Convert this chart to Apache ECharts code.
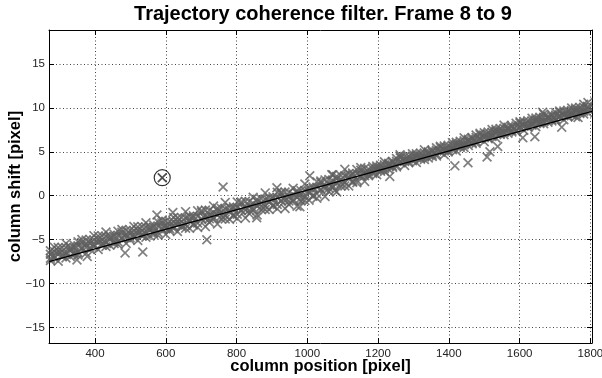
<!DOCTYPE html>
<html>
<head>
<meta charset="utf-8">
<script src="https://cdn.jsdelivr.net/npm/echarts@6/dist/echarts.min.js"></script>
<style>
  html, body { margin: 0; padding: 0; background: #fff; }
  #chart { width: 602px; height: 378px; }
</style>
</head>
<body>
<div id="chart"></div>
<script>
// Tracked features: column position (x) and its shift between the two frames (y).
// Four samples per position bin.
const colPos = [274,285,296,307,318,330,341,352,363,375,386,397,409,420,431,442,454,465,476,488,499,510,521,533,544,555,566,578,589,600,611,622,633,645,656,667,678,690,701,712,723,735,746,757,768,780,791,802,813,825,836,847,858,870,881,892,903,915,926,937,948,960,971,982,993,1005,1016,1027,1038,1050,1061,1072,1083,1095,1106,1117,1128,1140,1151,1162,1173,1185,1196,1207,1218,1230,1241,1252,1263,1275,1286,1297,1308,1320,1331,1342,1353,1365,1376,1387,1398,1410,1421,1432,1443,1455,1466,1477,1488,1500,1511,1522,1533,1545,1556,1567,1578,1590,1601,1612,1623,1635,1646,1657,1668,1680,1691,1702,1713,1725,1736,1747,1758,1770,1781,1792];
const shiftA = [-6.26,-6.85,-6.24,-6.93,-5.42,-6.9,-5.89,-5.24,-5.89,-6.53,-4.99,-5.54,-4.92,-5.63,-4.13,-5.64,-4.64,-4.04,-4.74,-5.42,-3.91,-4.5,-3.89,-4.57,-3.08,-4.59,-3.59,-2.99,-3.69,-4.4,-2.89,-3.48,-2.87,-3.55,
  -1.81,-3.71,-2.47,-1.72,-2.62,-3.51,-1.65,-2.43,-1.7,-2.62,-0.77,-2.68,-1.45,-0.72,-1.63,-2.52,-0.66,-1.42,-0.68,-1.56,0.32,-1.57,-0.33,0.39,-0.54,-1.45,0.39,-0.4,0.31,-0.6,1.33,-0.5,0.79,1.59,0.74,-0.08,1.85,1.13,1.93,1.1,3.0,1.12,2.38,
  2.97,2.3,1.63,3.03,2.68,3.18,2.78,3.87,3.0,3.77,4.23,3.88,3.45,4.51,4.12,4.58,4.15,5.22,4.3,5.02,5.46,5.08,4.65,5.73,5.39,5.89,5.49,6.59,5.71,6.46,6.91,6.55,6.15,7.24,6.88,7.36,6.96,8.03,7.1,7.81,8.24,7.86,7.44,8.52,8.16,8.64,8.22,9.28,8.35,9.06,9.47,9.08,8.65,9.71,9.32,9.78,9.35,10.41,9.47];
const shiftB = [-7.36,-5.85,-7.44,-6.33,-6.62,-5.8,-6.49,-6.74,-5.29,-5.03,-6.09,-4.54,-6.12,-5.03,-5.33,-4.54,-5.24,-5.54,-4.14,-3.92,-5.01,-3.5,-5.09,-3.97,-4.28,-3.49,-4.19,-4.49,-3.09,-2.9,-3.99,-2.48,-4.07,-2.95,
  -3.32,-2.33,-3.22,-3.6,-1.86,-1.63,-3.03,-1.18,-3.21,-1.86,-2.28,-1.3,-2.2,-2.6,-0.87,-0.64,-2.04,-0.17,-2.19,-0.8,-1.19,-0.19,-1.08,-1.49,0.22,0.43,-0.99,0.85,-1.2,0.16,-0.18,0.88,0.04,-0.29,1.5,1.8,0.47,2.38,0.42,1.86,1.49,2.5,1.63,
  1.47,2.9,3.13,2.28,3.33,2.38,3.18,3.07,3.7,3.37,3.28,4.28,4.45,3.76,4.77,3.78,4.55,4.42,5.0,4.62,4.51,5.48,5.65,4.98,6.04,5.09,5.89,5.79,6.41,6.06,5.96,6.95,7.15,6.49,7.53,6.56,7.36,7.23,7.8,7.41,7.29,8.26,8.44,7.77,8.81,7.84,8.62,8.48,9.05,8.66,8.52,9.48,9.65,8.96,9.97,8.98,9.75,9.61,10.17];
const shiftC = [-6.66,-7.1,-5.89,-6.73,-5.92,-6.25,-6.69,-5.69,-4.99,-5.88,-5.39,-5.79,-4.57,-5.43,-4.63,-4.99,-5.44,-4.49,-3.84,-4.77,-4.31,-4.75,-3.54,-4.37,-3.58,-3.94,-4.39,-3.44,-2.79,-3.75,-3.29,-3.73,-2.52,-3.35,-2.54,-2.88,-3.32,-2.35,-1.69,-2.63,-2.18,-2.63,-1.43,-2.29,-1.5,-1.85,-2.3,-1.35,-0.7,-1.64,-1.19,-1.62,-0.41,-1.23,-0.41,-0.74,-1.18,-0.24,0.39,-0.57,-0.14,-0.6,0.58,-0.27,0.6,0.33,-0.06,0.96,1.67,0.8,1.32,0.93,2.2,1.43,2.27,1.95,1.53,2.52,3.2,2.28,2.73,2.53,3.38,2.93,3.52,3.4,3.22,3.93,4.43,3.9,4.21,3.97,4.78,4.3,4.87,4.7,4.47,5.16,5.63,5.1,5.43,5.24,6.09,5.64,6.24,6.11,5.91,6.61,7.1,6.6,6.94,6.73,7.56,7.11,7.68,7.5,7.26,7.94,8.41,7.89,8.22,8.01,8.84,8.37,8.93,8.75,8.51,9.17,9.63,9.1,9.41,9.17,9.98,9.5,10.06,9.87];
const shiftD = [-7.11,-6.35,-6.64,-5.88,-7.07,-6.05,-5.64,-6.44,-5.99,-5.58,-5.84,-5.04,-5.32,-4.58,-5.78,-4.79,-4.39,-5.24,-4.84,-4.47,-4.76,-4.0,-4.29,-3.52,-4.73,-3.74,-3.34,-4.19,-3.79,-3.45,-3.74,-2.98,-3.27,-2.5,-3.69,-2.68,-2.27,-3.1,-2.69,-2.33,-2.63,-1.88,-2.18,-1.44,-2.65,-1.65,-1.25,-2.1,-1.7,-1.34,-1.64,-0.87,-1.16,-0.38,-1.56,-0.54,-0.13,-0.99,-0.61,-0.27,-0.59,0.15,-0.17,0.58,-0.55,0.53,0.99,0.21,0.67,1.1,0.87,1.68,1.45,2.28,1.12,2.15,2.58,1.77,2.2,2.58,2.43,3.03,2.93,3.48,2.77,3.55,3.92,3.48,3.78,4.1,3.91,4.47,4.33,4.85,4.12,4.85,5.17,4.71,4.98,5.3,5.13,5.74,5.64,6.19,5.49,6.26,6.61,6.16,6.45,6.8,6.64,7.23,7.11,7.66,6.93,7.65,7.96,7.49,7.76,8.09,7.92,8.51,8.39,8.92,8.18,8.9,9.21,8.72,8.98,9.3,9.11,9.67,9.53,10.05,9.31,10.02];

// Scattered features away from the main band
const outlierPos   = [349,378,485,535,575,620,716,762,857,914,979,1007,1069,1078,1233,1262,1417,1454,1508,1516,1538,1609,1643,1665,1719,1765,1793];
const outlierShift = [-7.3,-6.9,-6.5,-6.4,-2.2,-1.9,-5.0,1.0,-2.5,0.9,-1.25,2.27,2.4,0.6,2.2,4.66,3.4,3.75,4.4,5.0,5.6,6.6,6.7,9.5,7.8,8.9,10.6];

// Fitted coherent trajectory (end points)
const fitPos   = [270, 1804.5];
const fitShift = [-7.5, 9.6];

// Feature rejected by the filter
const flaggedPos   = [590];
const flaggedShift = [2.05];

const xTicks = [400, 600, 800, 1000, 1200, 1400, 1600, 1800];
const yTicks = [-15, -10, -5, 0, 5, 10, 15];

const FONT = 'Liberation Sans, Arial, Helvetica, sans-serif';
const CROSS = 'path://M0,1.2 L1.2,0 L5,3.8 L8.8,0 L10,1.2 L6.2,5 L10,8.8 L8.8,10 L5,6.2 L1.2,10 L0,8.8 L3.8,5 Z';

const cloud = [];
colPos.forEach((x, i) => {
  cloud.push([x, shiftA[i]], [x, shiftB[i]], [x, shiftC[i]], [x, shiftD[i]]);
});
outlierPos.forEach((x, i) => cloud.push([x, outlierShift[i]]));
const fit = fitPos.map((x, i) => [x, fitShift[i]]);
const flagged = flaggedPos.map((x, i) => [x, flaggedShift[i]]);

const plainFmt = v => String(v).replace('-', '\u2212');
const X_MIN = 270, X_MAX = 1804.5, Y_MIN = -16.75, Y_MAX = 18.85;

const frameLine = { show: true, onZero: false, lineStyle: { color: '#000', width: 1 } };
const gridDots = { show: true, lineStyle: { color: '#444', width: 1, type: [1, 2.5] } };

const chart = echarts.init(document.getElementById('chart'), null, { renderer: 'canvas' });
chart.setOption({
  animation: false,
  backgroundColor: '#fff',
  title: {
    text: 'Trajectory coherence filter. Frame 8 to 9',
    left: 323, top: 4, padding: 0, textAlign: 'center',
    textStyle: { fontFamily: FONT, fontSize: 20, fontWeight: 'bold', color: '#000' }
  },
  grid: { left: 49, right: 10, top: 30, bottom: 35, containLabel: false, outerBoundsMode: 'none' },
  xAxis: [
    {
      type: 'value', min: X_MIN, max: X_MAX, position: 'bottom',
      axisLine: frameLine,
      axisTick: { show: true, inside: true, length: 5, customValues: xTicks, lineStyle: { color: '#000' } },
      axisLabel: { customValues: xTicks, color: '#222', fontSize: 11.5, margin: 5, fontFamily: FONT, formatter: plainFmt },
      splitLine: gridDots,
      name: 'column position [pixel]', nameLocation: 'middle', nameGap: 15, nameMoveOverlap: false,
      nameTextStyle: { fontFamily: FONT, fontSize: 16.5, fontWeight: 'bold', color: '#000' }
    },
    {
      type: 'value', min: X_MIN, max: X_MAX, position: 'top',
      axisLine: frameLine,
      axisTick: { show: true, inside: true, length: 5, customValues: xTicks, lineStyle: { color: '#000' } },
      axisLabel: { show: false }, splitLine: { show: false }
    }
  ],
  yAxis: [
    {
      type: 'value', min: Y_MIN, max: Y_MAX, position: 'left',
      axisLine: frameLine,
      axisTick: { show: true, inside: true, length: 5, customValues: yTicks, lineStyle: { color: '#000' } },
      axisLabel: { customValues: yTicks, color: '#222', fontSize: 11.5, margin: 4, fontFamily: FONT, formatter: plainFmt },
      splitLine: gridDots,
      name: 'column shift [pixel]', nameLocation: 'middle', nameGap: 25, nameMoveOverlap: false,
      nameTextStyle: { fontFamily: FONT, fontSize: 16.5, fontWeight: 'bold', color: '#000' }
    },
    {
      type: 'value', min: Y_MIN, max: Y_MAX, position: 'right',
      axisLine: frameLine,
      axisTick: { show: true, inside: true, length: 5, customValues: yTicks, lineStyle: { color: '#000' } },
      axisLabel: { show: false }, splitLine: { show: false }
    }
  ],
  series: [
    {
      name: 'features', type: 'scatter', data: cloud,
      symbol: CROSS, symbolSize: 10, large: false,
      itemStyle: { color: '#5f5f5f' }, silent: true, z: 2
    },
    {
      name: 'fit', type: 'line', data: fit, showSymbol: false, symbol: 'none',
      lineStyle: { color: '#000', width: 1.3 }, silent: true, z: 3
    },
    {
      name: 'rejected ring', type: 'scatter', data: flagged,
      symbol: 'circle', symbolSize: 16,
      itemStyle: { color: 'rgba(0,0,0,0)', borderColor: '#000', borderWidth: 1.2 }, silent: true, z: 4
    },
    {
      name: 'rejected', type: 'scatter', data: flagged,
      symbol: CROSS, symbolSize: 10,
      itemStyle: { color: '#222' }, silent: true, z: 4
    }
  ]
});
</script>
</body>
</html>
